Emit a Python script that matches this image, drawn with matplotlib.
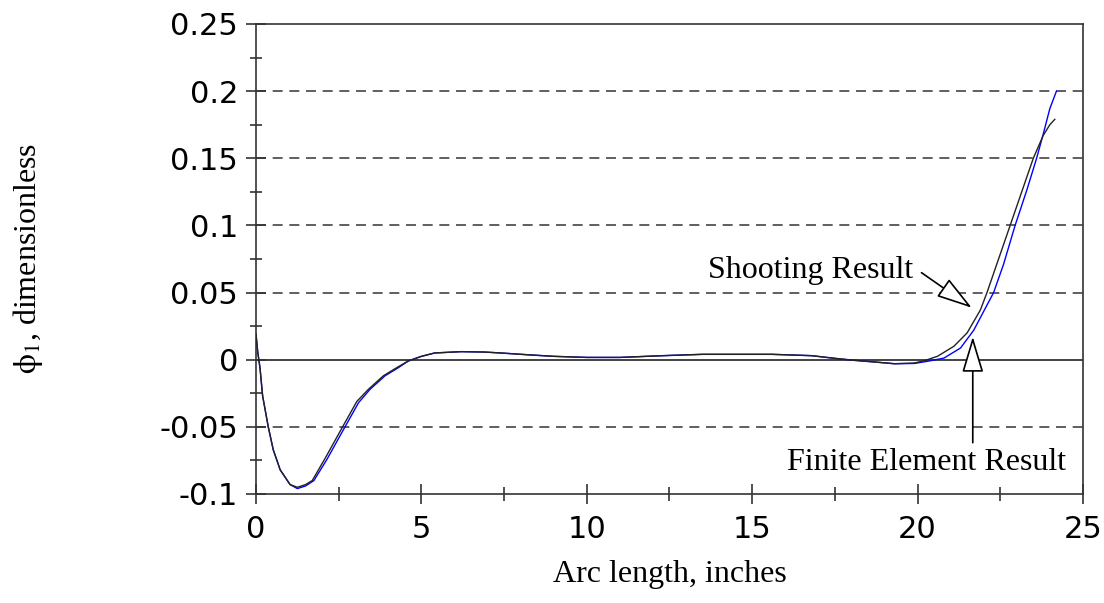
import numpy as np
import matplotlib
matplotlib.use("Agg")
import matplotlib.pyplot as plt
from matplotlib.ticker import MultipleLocator, FormatStrFormatter

plt.rcParams['axes.unicode_minus'] = False
plt.rcParams['mathtext.fontset'] = 'stix'

# shooting result (black)
shoot_x = [0.0, 0.05, 0.12, 0.2, 0.37, 0.52, 0.73, 1.03, 1.25, 1.5, 1.7, 2.1,
           2.55, 3.05, 3.4, 3.85, 4.25, 4.6, 5.0, 5.4, 6.2, 6.9, 7.4, 8.2, 9.0,
           10.0, 11.0, 12.3, 13.5, 14.5, 15.6, 16.8, 17.5, 18.1, 18.7, 19.3,
           19.9, 20.2, 20.6, 21.1, 21.5, 21.9, 22.1, 22.45, 22.8, 23.15, 23.5,
           23.8, 24.0, 24.15]
shoot_y = [0.019, 0.006, -0.006, -0.027, -0.05, -0.067, -0.082, -0.093, -0.095,
           -0.093, -0.090, -0.073, -0.053, -0.031, -0.022, -0.012, -0.006,
           -0.001, 0.0025, 0.005, 0.006, 0.0057, 0.005, 0.0037, 0.0025, 0.0017,
           0.0017, 0.003, 0.004, 0.004, 0.004, 0.003, 0.001, -0.0005, -0.0017,
           -0.003, -0.0025, -0.0008, 0.0025, 0.01, 0.020, 0.037, 0.05, 0.075,
           0.1, 0.125, 0.15, 0.167, 0.175, 0.179]

# finite element result (blue)
fe_x = [0.0, 0.05, 0.12, 0.2, 0.37, 0.52, 0.73, 1.03, 1.25, 1.5, 1.75, 2.15,
        2.6, 3.1, 3.45, 3.9, 4.3, 4.6, 5.0, 5.4, 6.2, 6.9, 7.4, 8.2, 9.0, 10.0,
        11.0, 12.3, 13.5, 14.5, 15.6, 16.8, 17.5, 18.1, 18.7, 19.3, 19.9, 20.3,
        20.8, 21.3, 21.7, 22.0, 22.3, 22.6, 22.95, 23.3, 23.6, 23.8, 24.0, 24.2]
fe_y = [0.019, 0.006, -0.006, -0.027, -0.05, -0.067, -0.082, -0.093, -0.096,
        -0.094, -0.090, -0.074, -0.054, -0.032, -0.022, -0.012, -0.006, -0.001,
        0.0025, 0.005, 0.006, 0.0057, 0.005, 0.0037, 0.0025, 0.0017, 0.0017,
        0.003, 0.004, 0.004, 0.004, 0.003, 0.001, -0.0005, -0.0017, -0.003,
        -0.0028, -0.0012, 0.0012, 0.0087, 0.022, 0.036, 0.05, 0.071, 0.1,
        0.126, 0.15, 0.168, 0.187, 0.2]

x_ticks = [0, 5, 10, 15, 20, 25]
y_ticks = [-0.1, -0.05, 0, 0.05, 0.1, 0.15, 0.2, 0.25]

fig = plt.figure(figsize=(11.04, 6.03), dpi=100)
ax = fig.add_axes([0.2319, 0.1808, 0.749, 0.7794])

spine_col = '#333333'
# grid lines
for yv in y_ticks[1:-1]:
    if yv == 0:
        ax.axhline(0, color='#222222', lw=1.2, zorder=1)
    else:
        ax.axhline(yv, color='#444444', lw=1.2, ls=(0, (6, 4)), zorder=1)

ax.plot(fe_x, fe_y, color='#0000ff', lw=1.0, zorder=2)
ax.plot(shoot_x, shoot_y, color='#222222', lw=1.0, zorder=3)

ax.set_xlim(0, 25)
ax.set_ylim(-0.1, 0.25)
ax.set_xticks(x_ticks)
ax.set_yticks(y_ticks)
ax.xaxis.set_minor_locator(MultipleLocator(2.5))
ax.yaxis.set_minor_locator(MultipleLocator(0.025))
ax.yaxis.set_major_formatter(FormatStrFormatter('%g'))

for s in ax.spines.values():
    s.set_color(spine_col)
    s.set_linewidth(1.2)

ax.tick_params(axis='x', which='major', direction='inout', length=14, width=1.2,
               color=spine_col, pad=8, labelsize=22)
ax.tick_params(axis='x', which='minor', direction='inout', length=10, width=1.2,
               color=spine_col)
ax.tick_params(axis='y', which='major', direction='inout', length=14, width=1.2,
               color=spine_col, pad=6, labelsize=22)
ax.tick_params(axis='y', which='minor', direction='inout', length=8, width=1.2,
               color=spine_col)
for lab in ax.get_xticklabels() + ax.get_yticklabels():
    lab.set_family('DejaVu Sans')

serif = 'Liberation Serif'
ax.set_xlabel('Arc length, inches', family=serif, fontsize=23, labelpad=12)
fig.text(0.025, 0.571, r'$\mathrm{\phi}_1$, dimensionless', family=serif,
         fontsize=23, rotation=90, ha='center', va='center')

arrow = dict(arrowstyle='-|>,head_length=1.5,head_width=0.45', fc='white',
             ec='black', lw=1.2, mutation_scale=15, shrinkA=0, shrinkB=0)
ax.annotate('', xy=(21.64, 0.0387), xytext=(20.12, 0.0648), arrowprops=arrow)
ax.annotate('', xy=(21.67, 0.0171), xytext=(21.67, -0.0618), arrowprops=arrow)
ax.text(19.88, 0.061, 'Shooting Result', family=serif, fontsize=23,
        ha='right', va='baseline')
ax.text(24.5, -0.0819, 'Finite Element Result', family=serif, fontsize=23,
        ha='right', va='baseline')

fig.savefig('out.png', dpi=100)
